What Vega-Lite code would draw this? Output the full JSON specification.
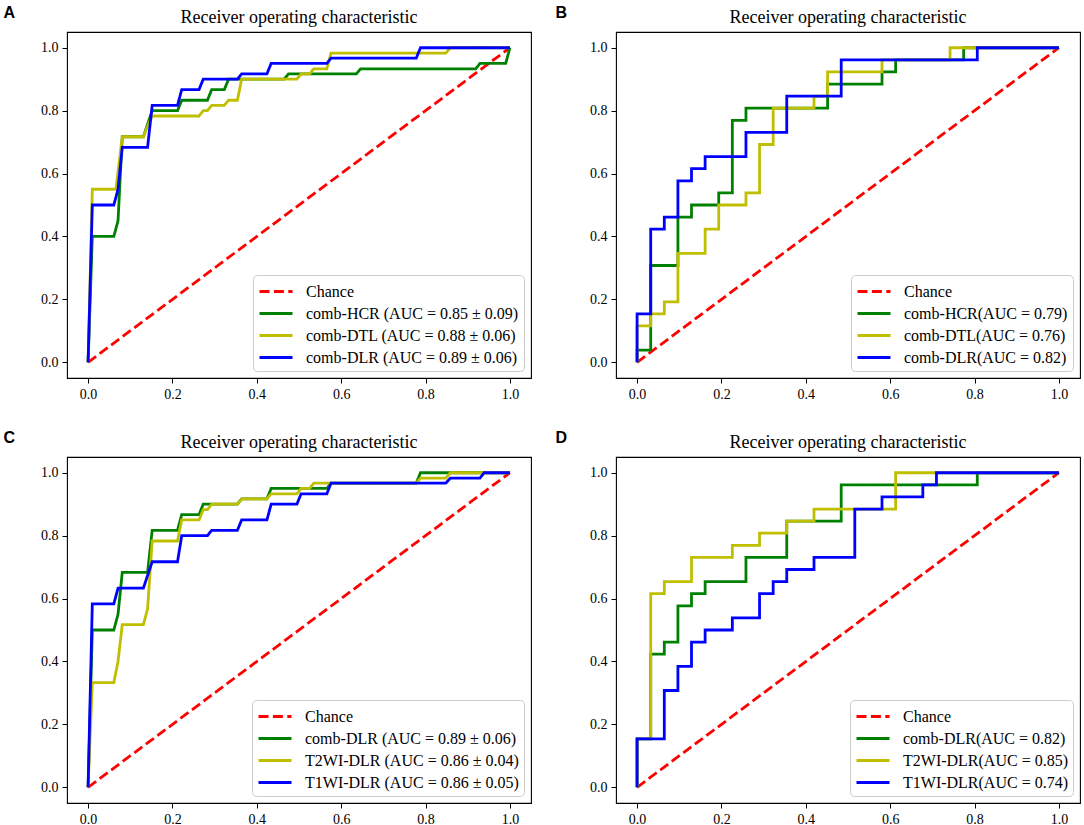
{
  "$schema": "https://vega.github.io/schema/vega-lite/v6.json",
  "padding": {"left": 2, "top": 4, "right": 0, "bottom": 0},
  "background": "white",
  "config": {
    "view": {"stroke": "#000000", "strokeWidth": 1.1},
    "font": "Liberation Serif",
    "axis": {"domain": false, "grid": false, "tickColor": "#000000", "tickSize": 5, "tickWidth": 1, "labelFont": "Liberation Serif", "labelFontSize": 14, "labelColor": "#000000", "labelPadding": 4, "labelFlush": false, "labelOverlap": false},
    "title": {"font": "Liberation Serif", "fontSize": 18, "fontWeight": "normal", "color": "#000000", "offset": 8, "dy": 30},
    "legend": {"orient": "bottom-right", "offset": 7, "fillColor": "#ffffff", "strokeColor": "#cccccc", "cornerRadius": 4, "padding": 5, "labelFont": "Liberation Serif", "labelFontSize": 16, "labelColor": "#000000", "labelLimit": 400, "symbolType": "M-1,0H2.3", "symbolSize": 400, "symbolStrokeWidth": 2.8, "labelOffset": 25, "rowPadding": 2}
  },
  "datasets": {
    "A": [
      {"k": "r", "x": 0, "y": 0}, {"k": "r", "x": 1, "y": 1},
      {"k": "g", "x": 0, "y": 0}, {"k": "g", "x": 0.01, "y": 0.4}, {"k": "g", "x": 0.061, "y": 0.4}, {"k": "g", "x": 0.071, "y": 0.45}, {"k": "g", "x": 0.081, "y": 0.717}, {"k": "g", "x": 0.131, "y": 0.717}, {"k": "g", "x": 0.152, "y": 0.8}, {"k": "g", "x": 0.212, "y": 0.8}, {"k": "g", "x": 0.222, "y": 0.833}, {"k": "g", "x": 0.283, "y": 0.833}, {"k": "g", "x": 0.293, "y": 0.867}, {"k": "g", "x": 0.323, "y": 0.867}, {"k": "g", "x": 0.333, "y": 0.9}, {"k": "g", "x": 0.465, "y": 0.9}, {"k": "g", "x": 0.475, "y": 0.917}, {"k": "g", "x": 0.636, "y": 0.917}, {"k": "g", "x": 0.646, "y": 0.933}, {"k": "g", "x": 0.919, "y": 0.933}, {"k": "g", "x": 0.929, "y": 0.95}, {"k": "g", "x": 0.99, "y": 0.95}, {"k": "g", "x": 1, "y": 1},
      {"k": "y", "x": 0, "y": 0}, {"k": "y", "x": 0.01, "y": 0.55}, {"k": "y", "x": 0.066, "y": 0.55}, {"k": "y", "x": 0.081, "y": 0.717}, {"k": "y", "x": 0.131, "y": 0.717}, {"k": "y", "x": 0.141, "y": 0.75}, {"k": "y", "x": 0.152, "y": 0.783}, {"k": "y", "x": 0.263, "y": 0.783}, {"k": "y", "x": 0.273, "y": 0.8}, {"k": "y", "x": 0.283, "y": 0.8}, {"k": "y", "x": 0.293, "y": 0.817}, {"k": "y", "x": 0.323, "y": 0.817}, {"k": "y", "x": 0.333, "y": 0.833}, {"k": "y", "x": 0.354, "y": 0.833}, {"k": "y", "x": 0.364, "y": 0.9}, {"k": "y", "x": 0.495, "y": 0.9}, {"k": "y", "x": 0.505, "y": 0.917}, {"k": "y", "x": 0.525, "y": 0.917}, {"k": "y", "x": 0.535, "y": 0.933}, {"k": "y", "x": 0.566, "y": 0.933}, {"k": "y", "x": 0.576, "y": 0.983}, {"k": "y", "x": 0.848, "y": 0.983}, {"k": "y", "x": 0.859, "y": 1}, {"k": "y", "x": 1, "y": 1},
      {"k": "b", "x": 0, "y": 0}, {"k": "b", "x": 0.01, "y": 0.5}, {"k": "b", "x": 0.061, "y": 0.5}, {"k": "b", "x": 0.071, "y": 0.55}, {"k": "b", "x": 0.081, "y": 0.683}, {"k": "b", "x": 0.141, "y": 0.683}, {"k": "b", "x": 0.152, "y": 0.817}, {"k": "b", "x": 0.212, "y": 0.817}, {"k": "b", "x": 0.222, "y": 0.867}, {"k": "b", "x": 0.263, "y": 0.867}, {"k": "b", "x": 0.273, "y": 0.9}, {"k": "b", "x": 0.354, "y": 0.9}, {"k": "b", "x": 0.364, "y": 0.917}, {"k": "b", "x": 0.424, "y": 0.917}, {"k": "b", "x": 0.434, "y": 0.95}, {"k": "b", "x": 0.566, "y": 0.95}, {"k": "b", "x": 0.576, "y": 0.967}, {"k": "b", "x": 0.778, "y": 0.967}, {"k": "b", "x": 0.788, "y": 1}, {"k": "b", "x": 1, "y": 1}
    ],
    "B": [
      {"k": "r", "x": 0, "y": 0}, {"k": "r", "x": 1, "y": 1},
      {"k": "g", "x": 0, "y": 0}, {"k": "g", "x": 0, "y": 0.0385}, {"k": "g", "x": 0.0323, "y": 0.0385}, {"k": "g", "x": 0.0323, "y": 0.3077}, {"k": "g", "x": 0.0968, "y": 0.3077}, {"k": "g", "x": 0.0968, "y": 0.4615}, {"k": "g", "x": 0.129, "y": 0.4615}, {"k": "g", "x": 0.129, "y": 0.5}, {"k": "g", "x": 0.1935, "y": 0.5}, {"k": "g", "x": 0.1935, "y": 0.5385}, {"k": "g", "x": 0.2258, "y": 0.5385}, {"k": "g", "x": 0.2258, "y": 0.7692}, {"k": "g", "x": 0.2581, "y": 0.7692}, {"k": "g", "x": 0.2581, "y": 0.8077}, {"k": "g", "x": 0.4516, "y": 0.8077}, {"k": "g", "x": 0.4516, "y": 0.8846}, {"k": "g", "x": 0.5806, "y": 0.8846}, {"k": "g", "x": 0.5806, "y": 0.9231}, {"k": "g", "x": 0.6129, "y": 0.9231}, {"k": "g", "x": 0.6129, "y": 0.9615}, {"k": "g", "x": 0.7742, "y": 0.9615}, {"k": "g", "x": 0.7742, "y": 1}, {"k": "g", "x": 1, "y": 1},
      {"k": "y", "x": 0, "y": 0}, {"k": "y", "x": 0, "y": 0.1154}, {"k": "y", "x": 0.0323, "y": 0.1154}, {"k": "y", "x": 0.0323, "y": 0.1538}, {"k": "y", "x": 0.0645, "y": 0.1538}, {"k": "y", "x": 0.0645, "y": 0.1923}, {"k": "y", "x": 0.0968, "y": 0.1923}, {"k": "y", "x": 0.0968, "y": 0.3462}, {"k": "y", "x": 0.1613, "y": 0.3462}, {"k": "y", "x": 0.1613, "y": 0.4231}, {"k": "y", "x": 0.1935, "y": 0.4231}, {"k": "y", "x": 0.1935, "y": 0.5}, {"k": "y", "x": 0.2581, "y": 0.5}, {"k": "y", "x": 0.2581, "y": 0.5385}, {"k": "y", "x": 0.2903, "y": 0.5385}, {"k": "y", "x": 0.2903, "y": 0.6923}, {"k": "y", "x": 0.3226, "y": 0.6923}, {"k": "y", "x": 0.3226, "y": 0.8077}, {"k": "y", "x": 0.4194, "y": 0.8077}, {"k": "y", "x": 0.4194, "y": 0.8462}, {"k": "y", "x": 0.4516, "y": 0.8462}, {"k": "y", "x": 0.4516, "y": 0.9231}, {"k": "y", "x": 0.5806, "y": 0.9231}, {"k": "y", "x": 0.5806, "y": 0.9615}, {"k": "y", "x": 0.7419, "y": 0.9615}, {"k": "y", "x": 0.7419, "y": 1}, {"k": "y", "x": 1, "y": 1},
      {"k": "b", "x": 0, "y": 0}, {"k": "b", "x": 0, "y": 0.1538}, {"k": "b", "x": 0.0323, "y": 0.1538}, {"k": "b", "x": 0.0323, "y": 0.4231}, {"k": "b", "x": 0.0645, "y": 0.4231}, {"k": "b", "x": 0.0645, "y": 0.4615}, {"k": "b", "x": 0.0968, "y": 0.4615}, {"k": "b", "x": 0.0968, "y": 0.5769}, {"k": "b", "x": 0.129, "y": 0.5769}, {"k": "b", "x": 0.129, "y": 0.6154}, {"k": "b", "x": 0.1613, "y": 0.6154}, {"k": "b", "x": 0.1613, "y": 0.6538}, {"k": "b", "x": 0.2581, "y": 0.6538}, {"k": "b", "x": 0.2581, "y": 0.7308}, {"k": "b", "x": 0.3548, "y": 0.7308}, {"k": "b", "x": 0.3548, "y": 0.8462}, {"k": "b", "x": 0.4839, "y": 0.8462}, {"k": "b", "x": 0.4839, "y": 0.9615}, {"k": "b", "x": 0.8065, "y": 0.9615}, {"k": "b", "x": 0.8065, "y": 1}, {"k": "b", "x": 1, "y": 1}
    ],
    "C": [
      {"k": "r", "x": 0, "y": 0}, {"k": "r", "x": 1, "y": 1},
      {"k": "g", "x": 0, "y": 0}, {"k": "g", "x": 0.01, "y": 0.5}, {"k": "g", "x": 0.061, "y": 0.5}, {"k": "g", "x": 0.071, "y": 0.55}, {"k": "g", "x": 0.081, "y": 0.683}, {"k": "g", "x": 0.141, "y": 0.683}, {"k": "g", "x": 0.152, "y": 0.817}, {"k": "g", "x": 0.212, "y": 0.817}, {"k": "g", "x": 0.222, "y": 0.867}, {"k": "g", "x": 0.263, "y": 0.867}, {"k": "g", "x": 0.273, "y": 0.9}, {"k": "g", "x": 0.354, "y": 0.9}, {"k": "g", "x": 0.364, "y": 0.917}, {"k": "g", "x": 0.424, "y": 0.917}, {"k": "g", "x": 0.434, "y": 0.95}, {"k": "g", "x": 0.566, "y": 0.95}, {"k": "g", "x": 0.576, "y": 0.967}, {"k": "g", "x": 0.778, "y": 0.967}, {"k": "g", "x": 0.788, "y": 1}, {"k": "g", "x": 1, "y": 1},
      {"k": "y", "x": 0, "y": 0}, {"k": "y", "x": 0.01, "y": 0.333}, {"k": "y", "x": 0.061, "y": 0.333}, {"k": "y", "x": 0.071, "y": 0.4}, {"k": "y", "x": 0.081, "y": 0.517}, {"k": "y", "x": 0.131, "y": 0.517}, {"k": "y", "x": 0.141, "y": 0.567}, {"k": "y", "x": 0.152, "y": 0.783}, {"k": "y", "x": 0.212, "y": 0.783}, {"k": "y", "x": 0.222, "y": 0.85}, {"k": "y", "x": 0.263, "y": 0.85}, {"k": "y", "x": 0.273, "y": 0.883}, {"k": "y", "x": 0.283, "y": 0.883}, {"k": "y", "x": 0.293, "y": 0.9}, {"k": "y", "x": 0.354, "y": 0.9}, {"k": "y", "x": 0.364, "y": 0.917}, {"k": "y", "x": 0.424, "y": 0.917}, {"k": "y", "x": 0.434, "y": 0.933}, {"k": "y", "x": 0.495, "y": 0.933}, {"k": "y", "x": 0.505, "y": 0.95}, {"k": "y", "x": 0.525, "y": 0.95}, {"k": "y", "x": 0.535, "y": 0.967}, {"k": "y", "x": 0.778, "y": 0.967}, {"k": "y", "x": 0.788, "y": 0.983}, {"k": "y", "x": 0.848, "y": 0.983}, {"k": "y", "x": 0.859, "y": 1}, {"k": "y", "x": 1, "y": 1},
      {"k": "b", "x": 0, "y": 0}, {"k": "b", "x": 0.01, "y": 0.583}, {"k": "b", "x": 0.061, "y": 0.583}, {"k": "b", "x": 0.071, "y": 0.633}, {"k": "b", "x": 0.131, "y": 0.633}, {"k": "b", "x": 0.152, "y": 0.717}, {"k": "b", "x": 0.212, "y": 0.717}, {"k": "b", "x": 0.222, "y": 0.8}, {"k": "b", "x": 0.283, "y": 0.8}, {"k": "b", "x": 0.293, "y": 0.817}, {"k": "b", "x": 0.354, "y": 0.817}, {"k": "b", "x": 0.364, "y": 0.85}, {"k": "b", "x": 0.424, "y": 0.85}, {"k": "b", "x": 0.434, "y": 0.9}, {"k": "b", "x": 0.495, "y": 0.9}, {"k": "b", "x": 0.505, "y": 0.933}, {"k": "b", "x": 0.566, "y": 0.933}, {"k": "b", "x": 0.576, "y": 0.967}, {"k": "b", "x": 0.848, "y": 0.967}, {"k": "b", "x": 0.859, "y": 0.983}, {"k": "b", "x": 0.929, "y": 0.983}, {"k": "b", "x": 0.939, "y": 1}, {"k": "b", "x": 1, "y": 1}
    ],
    "D": [
      {"k": "r", "x": 0, "y": 0}, {"k": "r", "x": 1, "y": 1},
      {"k": "g", "x": 0, "y": 0}, {"k": "g", "x": 0, "y": 0.1538}, {"k": "g", "x": 0.0323, "y": 0.1538}, {"k": "g", "x": 0.0323, "y": 0.4231}, {"k": "g", "x": 0.0645, "y": 0.4231}, {"k": "g", "x": 0.0645, "y": 0.4615}, {"k": "g", "x": 0.0968, "y": 0.4615}, {"k": "g", "x": 0.0968, "y": 0.5769}, {"k": "g", "x": 0.129, "y": 0.5769}, {"k": "g", "x": 0.129, "y": 0.6154}, {"k": "g", "x": 0.1613, "y": 0.6154}, {"k": "g", "x": 0.1613, "y": 0.6538}, {"k": "g", "x": 0.2581, "y": 0.6538}, {"k": "g", "x": 0.2581, "y": 0.7308}, {"k": "g", "x": 0.3548, "y": 0.7308}, {"k": "g", "x": 0.3548, "y": 0.8462}, {"k": "g", "x": 0.4839, "y": 0.8462}, {"k": "g", "x": 0.4839, "y": 0.9615}, {"k": "g", "x": 0.8065, "y": 0.9615}, {"k": "g", "x": 0.8065, "y": 1}, {"k": "g", "x": 1, "y": 1},
      {"k": "y", "x": 0, "y": 0}, {"k": "y", "x": 0, "y": 0.1538}, {"k": "y", "x": 0.0323, "y": 0.1538}, {"k": "y", "x": 0.0323, "y": 0.6154}, {"k": "y", "x": 0.0645, "y": 0.6154}, {"k": "y", "x": 0.0645, "y": 0.6538}, {"k": "y", "x": 0.129, "y": 0.6538}, {"k": "y", "x": 0.129, "y": 0.7308}, {"k": "y", "x": 0.2258, "y": 0.7308}, {"k": "y", "x": 0.2258, "y": 0.7692}, {"k": "y", "x": 0.2903, "y": 0.7692}, {"k": "y", "x": 0.2903, "y": 0.8077}, {"k": "y", "x": 0.3548, "y": 0.8077}, {"k": "y", "x": 0.3548, "y": 0.8462}, {"k": "y", "x": 0.4194, "y": 0.8462}, {"k": "y", "x": 0.4194, "y": 0.8846}, {"k": "y", "x": 0.6129, "y": 0.8846}, {"k": "y", "x": 0.6129, "y": 1}, {"k": "y", "x": 1, "y": 1},
      {"k": "b", "x": 0, "y": 0}, {"k": "b", "x": 0, "y": 0.1538}, {"k": "b", "x": 0.0645, "y": 0.1538}, {"k": "b", "x": 0.0645, "y": 0.3077}, {"k": "b", "x": 0.0968, "y": 0.3077}, {"k": "b", "x": 0.0968, "y": 0.3846}, {"k": "b", "x": 0.129, "y": 0.3846}, {"k": "b", "x": 0.129, "y": 0.4615}, {"k": "b", "x": 0.1613, "y": 0.4615}, {"k": "b", "x": 0.1613, "y": 0.5}, {"k": "b", "x": 0.2258, "y": 0.5}, {"k": "b", "x": 0.2258, "y": 0.5385}, {"k": "b", "x": 0.2903, "y": 0.5385}, {"k": "b", "x": 0.2903, "y": 0.6154}, {"k": "b", "x": 0.3226, "y": 0.6154}, {"k": "b", "x": 0.3226, "y": 0.6538}, {"k": "b", "x": 0.3548, "y": 0.6538}, {"k": "b", "x": 0.3548, "y": 0.6923}, {"k": "b", "x": 0.4194, "y": 0.6923}, {"k": "b", "x": 0.4194, "y": 0.7308}, {"k": "b", "x": 0.5161, "y": 0.7308}, {"k": "b", "x": 0.5161, "y": 0.8846}, {"k": "b", "x": 0.5806, "y": 0.8846}, {"k": "b", "x": 0.5806, "y": 0.9231}, {"k": "b", "x": 0.6774, "y": 0.9231}, {"k": "b", "x": 0.6774, "y": 0.9615}, {"k": "b", "x": 0.7097, "y": 0.9615}, {"k": "b", "x": 0.7097, "y": 1}, {"k": "b", "x": 1, "y": 1}
    ]
  },
  "columns": 2,
  "bounds": "flush",
  "spacing": {"row": 79, "column": 85},
  "resolve": {"scale": {"color": "independent", "strokeDash": "independent"}},
  "concat": [
    {
      "width": 464, "height": 346,
      "title": "Receiver operating characteristic",
      "data": {"name": "A"},
      "layer": [
        {"mark": {"type": "line", "strokeWidth": 2.8},
         "encoding": {
           "x": {"field": "x", "type": "quantitative", "title": null, "scale": {"domain": [-0.05, 1.05], "nice": false, "zero": false}, "axis": {"values": [0, 0.2, 0.4, 0.6, 0.8, 1], "format": ".1f"}},
           "y": {"field": "y", "type": "quantitative", "title": null, "scale": {"domain": [-0.05, 1.05], "nice": false, "zero": false}, "axis": {"values": [0, 0.2, 0.4, 0.6, 0.8, 1], "format": ".1f"}},
           "color": {"field": "k", "type": "nominal", "title": null, "scale": {"domain": ["r", "g", "y", "b"], "range": ["#ff0000", "#008000", "#bfbf00", "#0000ff"]}, "legend": {"labelExpr": "{'r': 'Chance', 'g': 'comb-HCR (AUC = 0.85 ± 0.09)', 'y': 'comb-DTL (AUC = 0.88 ± 0.06)', 'b': 'comb-DLR (AUC = 0.89 ± 0.06)'}[datum.label]"}},
           "strokeDash": {"field": "k", "type": "nominal", "title": null, "scale": {"domain": ["r", "g", "y", "b"], "range": [[10, 4.4], [1, 0], [1, 0], [1, 0]]}, "legend": {"labelExpr": "{'r': 'Chance', 'g': 'comb-HCR (AUC = 0.85 ± 0.09)', 'y': 'comb-DTL (AUC = 0.88 ± 0.06)', 'b': 'comb-DLR (AUC = 0.89 ± 0.06)'}[datum.label]"}},
           "order": {"value": null}
         }},
        {"data": {"values": [{"t": "A"}]},
         "mark": {"type": "text", "font": "Liberation Sans", "fontWeight": "bold", "fontSize": 16, "align": "center", "baseline": "middle", "color": "#000000"},
         "encoding": {"x": {"datum": -0.187}, "y": {"datum": 1.111}, "text": {"field": "t"}}}
      ]
    },
    {
      "width": 464, "height": 346,
      "title": "Receiver operating characteristic",
      "data": {"name": "B"},
      "layer": [
        {"mark": {"type": "line", "strokeWidth": 2.8},
         "encoding": {
           "x": {"field": "x", "type": "quantitative", "title": null, "scale": {"domain": [-0.05, 1.05], "nice": false, "zero": false}, "axis": {"values": [0, 0.2, 0.4, 0.6, 0.8, 1], "format": ".1f"}},
           "y": {"field": "y", "type": "quantitative", "title": null, "scale": {"domain": [-0.05, 1.05], "nice": false, "zero": false}, "axis": {"values": [0, 0.2, 0.4, 0.6, 0.8, 1], "format": ".1f"}},
           "color": {"field": "k", "type": "nominal", "title": null, "scale": {"domain": ["r", "g", "y", "b"], "range": ["#ff0000", "#008000", "#bfbf00", "#0000ff"]}, "legend": {"labelExpr": "{'r': 'Chance', 'g': 'comb-HCR(AUC = 0.79)', 'y': 'comb-DTL(AUC = 0.76)', 'b': 'comb-DLR(AUC = 0.82)'}[datum.label]"}},
           "strokeDash": {"field": "k", "type": "nominal", "title": null, "scale": {"domain": ["r", "g", "y", "b"], "range": [[10, 4.4], [1, 0], [1, 0], [1, 0]]}, "legend": {"labelExpr": "{'r': 'Chance', 'g': 'comb-HCR(AUC = 0.79)', 'y': 'comb-DTL(AUC = 0.76)', 'b': 'comb-DLR(AUC = 0.82)'}[datum.label]"}},
           "order": {"value": null}
         }},
        {"data": {"values": [{"t": "B"}]},
         "mark": {"type": "text", "font": "Liberation Sans", "fontWeight": "bold", "fontSize": 16, "align": "center", "baseline": "middle", "color": "#000000"},
         "encoding": {"x": {"datum": -0.18}, "y": {"datum": 1.111}, "text": {"field": "t"}}}
      ]
    },
    {
      "width": 464, "height": 346,
      "title": "Receiver operating characteristic",
      "data": {"name": "C"},
      "layer": [
        {"mark": {"type": "line", "strokeWidth": 2.8},
         "encoding": {
           "x": {"field": "x", "type": "quantitative", "title": null, "scale": {"domain": [-0.05, 1.05], "nice": false, "zero": false}, "axis": {"values": [0, 0.2, 0.4, 0.6, 0.8, 1], "format": ".1f"}},
           "y": {"field": "y", "type": "quantitative", "title": null, "scale": {"domain": [-0.05, 1.05], "nice": false, "zero": false}, "axis": {"values": [0, 0.2, 0.4, 0.6, 0.8, 1], "format": ".1f"}},
           "color": {"field": "k", "type": "nominal", "title": null, "scale": {"domain": ["r", "g", "y", "b"], "range": ["#ff0000", "#008000", "#bfbf00", "#0000ff"]}, "legend": {"labelExpr": "{'r': 'Chance', 'g': 'comb-DLR (AUC = 0.89 ± 0.06)', 'y': 'T2WI-DLR (AUC = 0.86 ± 0.04)', 'b': 'T1WI-DLR (AUC = 0.86 ± 0.05)'}[datum.label]"}},
           "strokeDash": {"field": "k", "type": "nominal", "title": null, "scale": {"domain": ["r", "g", "y", "b"], "range": [[10, 4.4], [1, 0], [1, 0], [1, 0]]}, "legend": {"labelExpr": "{'r': 'Chance', 'g': 'comb-DLR (AUC = 0.89 ± 0.06)', 'y': 'T2WI-DLR (AUC = 0.86 ± 0.04)', 'b': 'T1WI-DLR (AUC = 0.86 ± 0.05)'}[datum.label]"}},
           "order": {"value": null}
         }},
        {"data": {"values": [{"t": "C"}]},
         "mark": {"type": "text", "font": "Liberation Sans", "fontWeight": "bold", "fontSize": 16, "align": "center", "baseline": "middle", "color": "#000000"},
         "encoding": {"x": {"datum": -0.187}, "y": {"datum": 1.111}, "text": {"field": "t"}}}
      ]
    },
    {
      "width": 464, "height": 346,
      "title": "Receiver operating characteristic",
      "data": {"name": "D"},
      "layer": [
        {"mark": {"type": "line", "strokeWidth": 2.8},
         "encoding": {
           "x": {"field": "x", "type": "quantitative", "title": null, "scale": {"domain": [-0.05, 1.05], "nice": false, "zero": false}, "axis": {"values": [0, 0.2, 0.4, 0.6, 0.8, 1], "format": ".1f"}},
           "y": {"field": "y", "type": "quantitative", "title": null, "scale": {"domain": [-0.05, 1.05], "nice": false, "zero": false}, "axis": {"values": [0, 0.2, 0.4, 0.6, 0.8, 1], "format": ".1f"}},
           "color": {"field": "k", "type": "nominal", "title": null, "scale": {"domain": ["r", "g", "y", "b"], "range": ["#ff0000", "#008000", "#bfbf00", "#0000ff"]}, "legend": {"labelExpr": "{'r': 'Chance', 'g': 'comb-DLR(AUC = 0.82)', 'y': 'T2WI-DLR(AUC = 0.85)', 'b': 'T1WI-DLR(AUC = 0.74)'}[datum.label]"}},
           "strokeDash": {"field": "k", "type": "nominal", "title": null, "scale": {"domain": ["r", "g", "y", "b"], "range": [[10, 4.4], [1, 0], [1, 0], [1, 0]]}, "legend": {"labelExpr": "{'r': 'Chance', 'g': 'comb-DLR(AUC = 0.82)', 'y': 'T2WI-DLR(AUC = 0.85)', 'b': 'T1WI-DLR(AUC = 0.74)'}[datum.label]"}},
           "order": {"value": null}
         }},
        {"data": {"values": [{"t": "D"}]},
         "mark": {"type": "text", "font": "Liberation Sans", "fontWeight": "bold", "fontSize": 16, "align": "center", "baseline": "middle", "color": "#000000"},
         "encoding": {"x": {"datum": -0.18}, "y": {"datum": 1.111}, "text": {"field": "t"}}}
      ]
    }
  ]
}
